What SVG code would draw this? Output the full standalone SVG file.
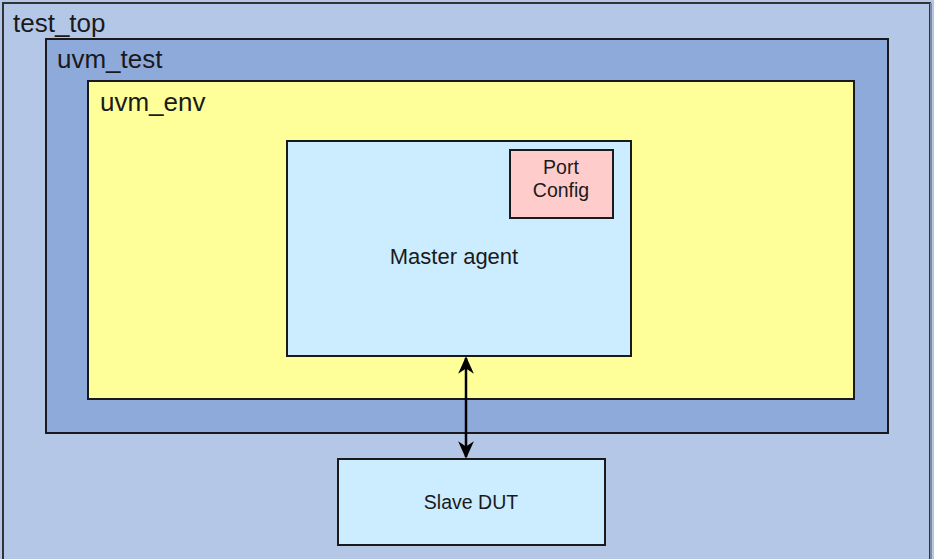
<svg xmlns="http://www.w3.org/2000/svg" width="934" height="559" viewBox="0 0 934 559">
<defs>
<style>
text{font-family:"Liberation Sans",Arial,sans-serif;fill:#1a1a1a}
.box{stroke:#1a1a1a;stroke-width:2}
.lbl{font-size:26px}
.mid{text-anchor:middle}
</style>
<marker id="ah" viewBox="0 0 10 10" refX="9" refY="5" markerWidth="7" markerHeight="7" orient="auto-start-reverse" markerUnits="strokeWidth">
<path d="M0,0.5 L10,5 L0,9.5 L3,5 Z" fill="#000"/>
</marker>
</defs>
<rect width="934" height="559" fill="#B4C7E7"/>
<g id="test_top">
<rect x="3" y="3" width="927" height="570" fill="#B4C7E7" stroke="#333" stroke-width="2"/>
<line x1="931" y1="3" x2="931" y2="559" stroke="#7f8ba3" stroke-width="2"/>
<text class="lbl" x="13" y="32">test_top</text>
</g>
<g id="uvm_test">
<rect class="box" x="46" y="39" width="842" height="394" fill="#8EAADB"/>
<text class="lbl" x="57" y="68">uvm_test</text>
</g>
<g id="uvm_env">
<rect class="box" x="88" y="81" width="766" height="318" fill="#FFFF99"/>
<text class="lbl" x="100" y="111">uvm_env</text>
</g>
<g id="master_agent">
<rect class="box" x="287" y="141" width="344" height="215" fill="#CCECFF"/>
<text x="454" y="264" font-size="22" class="mid">Master agent</text>
</g>
<g id="port_config">
<rect class="box" x="510" y="150" width="103" height="68" fill="#FFCCCC"/>
<text x="561" y="174" font-size="19.5" class="mid">Port</text>
<text x="561" y="197" font-size="19.5" class="mid">Config</text>
</g>
<g id="slave_dut">
<rect class="box" x="338" y="459" width="267" height="86" fill="#CCECFF"/>
<text x="471" y="509" font-size="19.5" class="mid">Slave DUT</text>
</g>
<g id="connectors">
<line x1="466" y1="358" x2="466" y2="457" stroke="#000" stroke-width="2.5" marker-start="url(#ah)" marker-end="url(#ah)"/>
</g>
</svg>
